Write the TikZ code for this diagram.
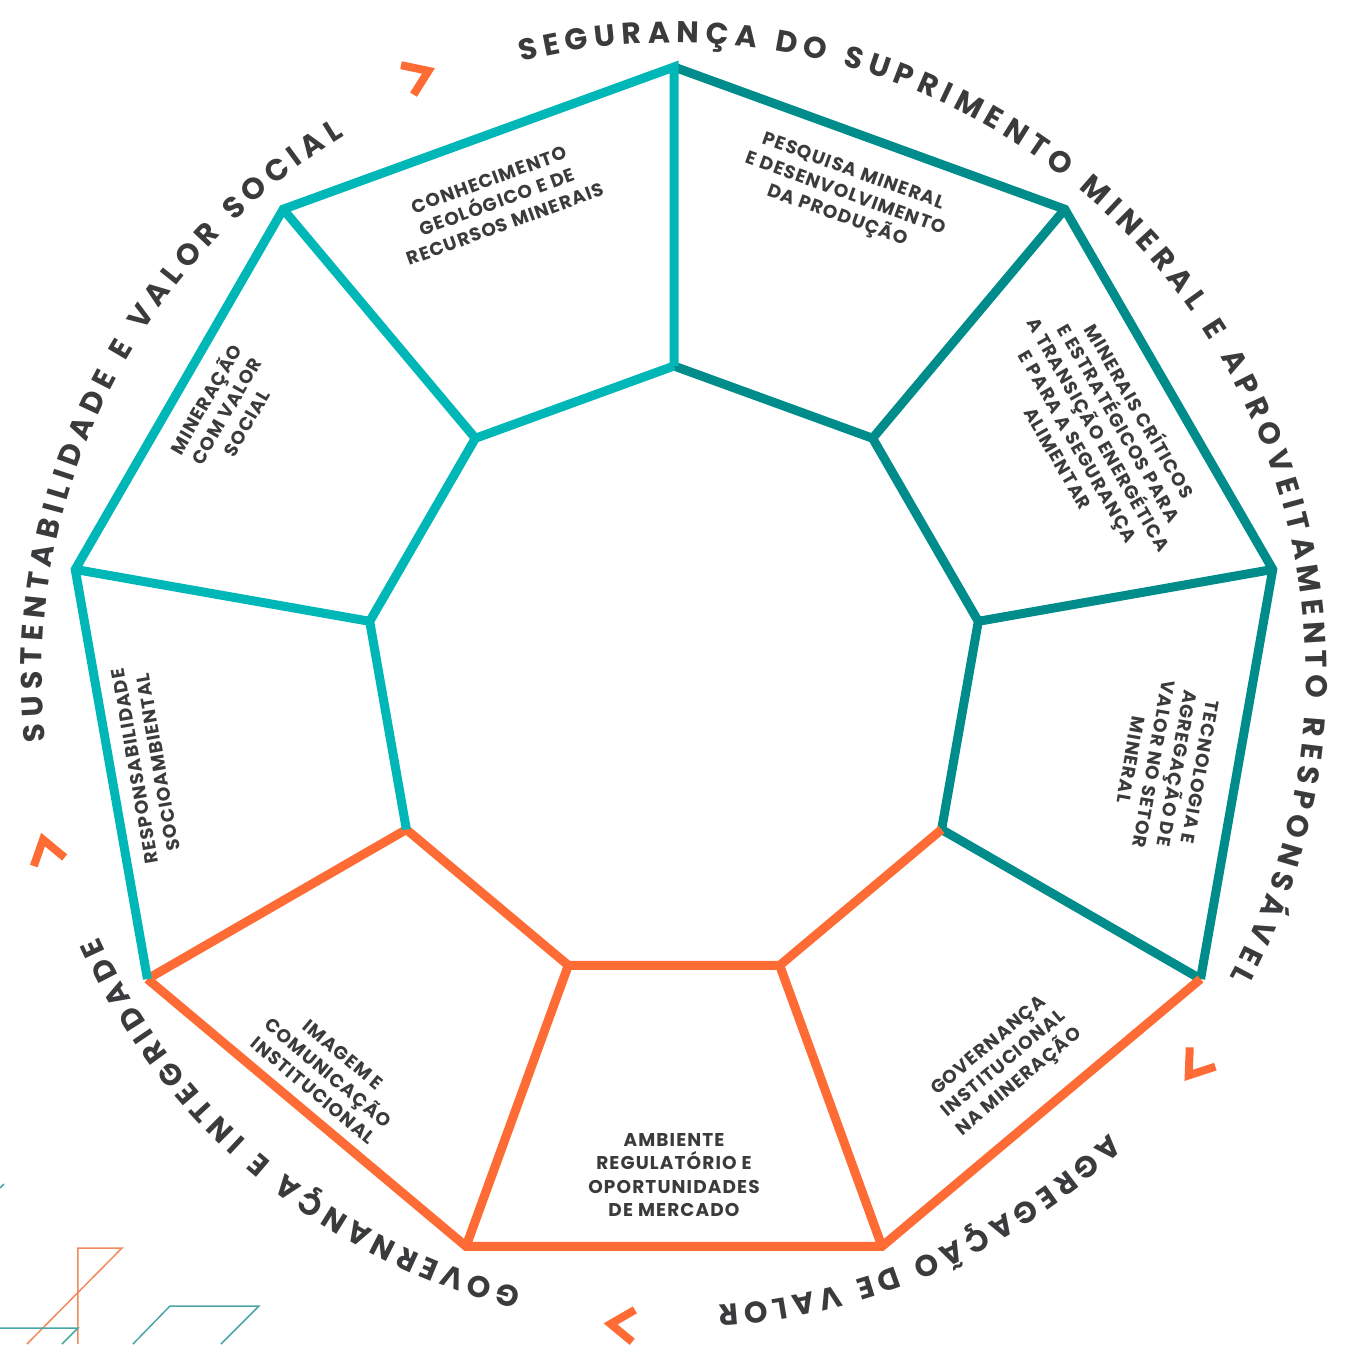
\documentclass[tikz,border=0pt]{standalone}
\usepackage{fontspec}
\newfontfamily\segfont{Poppins}[LetterSpace=6]
\newfontfamily\arcfont{Poppins}
\usetikzlibrary{decorations.text}
\definecolor{tealA}{HTML}{00B7B7}
\definecolor{tealB}{HTML}{008C8A}
\definecolor{laranja}{HTML}{FF6B35}
\definecolor{grafite}{HTML}{3A3B3D}
\definecolor{fioL}{HTML}{F08A5D}
\definecolor{fioT}{HTML}{4BA6A6}

\tikzset{
  aresta/.style={line width=9pt, line join=miter},
  tema/.style={font={\segfont\bfseries\fontsize{18.5}{23.5}\selectfont}, text=grafite, align=center, inner sep=0pt},
  arco/.style={decorate, decoration={text along path, text align={fit to path}, text color=grafite, text={|\arcfont\bfseries\fontsize{30}{30}\selectfont|#1}}},
  chev/.style={draw=laranja, line width=8pt, line join=miter},
  fio/.style={line width=1.5pt}
}

\begin{document}
\begin{tikzpicture}[x=1pt, y=1pt]
  \useasboundingbox (-674,-669) rectangle (680,675);

  \foreach \k in {0,...,8} {
    \coordinate (O\k) at ({90-40*\k}:608);
    \coordinate (I\k) at ({90-40*\k}:309);
  }

  % eixo suprimento
  \draw[aresta, tealB] (O0) -- (O1) -- (O2) -- (O3);
  \draw[aresta, tealB] (I0) -- (I1) -- (I2) -- (I3);
  \draw[aresta, tealB] (O1) -- (I1) (O2) -- (I2) (O3) -- (I3);
  % eixo agregacao / governanca
  \draw[aresta, laranja] (O3) -- (O4) -- (O5) -- (O6);
  \draw[aresta, laranja] (I3) -- (I4) -- (I5) -- (I6);
  \draw[aresta, laranja] (O4) -- (I4) (O5) -- (I5) (O6) -- (I6);
  % eixo sustentabilidade
  \draw[aresta, tealA] (I0) -- (O0) -- (O8) -- (O7) -- (O6);
  \draw[aresta, tealA] (I6) -- (I7) -- (I8) -- (I0);
  \draw[aresta, tealA] (O7) -- (I7) (O8) -- (I8);

  \node[tema, rotate=20] (conhecimento) at (110.5:505) {CONHECIMENTO\\GEOLÓGICO E DE\\RECURSOS MINERAIS};
  \node[tema, rotate=-20] (pesquisa) at (70.4:510) {PESQUISA MINERAL\\E DESENVOLVIMENTO\\DA PRODUÇÃO};
  \node[tema, rotate=-60] (minerais) at (29.5:490) {MINERAIS CRÍTICOS\\E ESTRATÉGICOS PARA\\A TRANSIÇÃO ENERGÉTICA\\E PARA A SEGURANÇA\\ALIMENTAR};
  \node[tema, rotate=-100] (tecnologia) at (-10.5:500) {TECNOLOGIA E\\AGREGAÇÃO DE\\VALOR NO SETOR\\MINERAL};
  \node[tema, rotate=40] (governanca) at (-49.7:511) {GOVERNANÇA\\INSTITUCIONAL\\NA MINERAÇÃO};
  \node[tema] (ambiente) at (-90:500) {AMBIENTE\\REGULATÓRIO E\\OPORTUNIDADES\\DE MERCADO};
  \node[tema, rotate=-40] (imagem) at (-131:527) {IMAGEM E\\COMUNICAÇÃO\\INSTITUCIONAL};
  \node[tema, rotate=100] (responsabilidade) at (189.6:535) {RESPONSABILIDADE\\SOCIOAMBIENTAL};
  \node[tema, rotate=60] (mineracao) at (149.5:521) {MINERAÇÃO\\COM VALOR\\SOCIAL};

  % textos curvos
  \path[arco={SEGURANÇA DO SUPRIMENTO MINERAL E APROVEITAMENTO RESPONSÁVEL}] (104:632) arc[start angle=104, end angle=-28.5, radius=632];
  \path[arco={AGREGAÇÃO DE VALOR}] (-46.5:632) arc[start angle=-46.5, end angle=-86, radius=632];
  \path[arco={GOVERNANÇA E INTEGRIDADE}] (-104:632) arc[start angle=-104, end angle=-155.5, radius=632];
  \path[arco={SUSTENTABILIDADE E VALOR SOCIAL}] (186:632) arc[start angle=186, end angle=121.5, radius=632];

  \foreach \a in {113,-37,-94.7,195.5}
    \draw[chev, shift={(\a:652)}, rotate=\a-90] (-13,16) -- (10,0) -- (-13,-16);

  % fios decorativos
  \draw[fio, fioL] (-596,-669) -- (-596,-573) -- (-552,-573) -- (-647,-669);
  \draw[fio, fioT] (-674,-653) -- (-596,-653) -- (-612,-669);
  \draw[fio, fioT] (-541,-669) -- (-504,-631) -- (-415,-631) -- (-453,-669);
  \draw[fio, fioT] (-674,-513) -- (-670,-509);
\end{tikzpicture}
\end{document}
